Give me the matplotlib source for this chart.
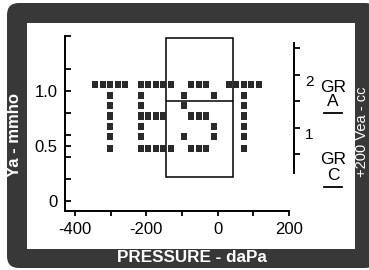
import matplotlib
matplotlib.use('Agg')
import matplotlib.pyplot as plt
from matplotlib.patches import FancyBboxPatch, Rectangle

plt.rcParams['font.family'] = ['Liberation Sans', 'DejaVu Sans']

# pressure axis (daPa) and admittance axis (mmho)
x_major = [-400, -200, 0, 200]
x_labels = ['-400', '-200', '0', '200']
x_minor = [-300, -100, 100]
y_major = [0, 0.5, 1.0]
y_labels = ['0', '0.5', '1.0']
y_minor = [0.2, 0.4, 0.6, 0.8, 1.2, 1.5]

# normal region box
box_x = [-145, 43]
box_y = [0.22, 1.48]
box_mid_y = 0.91

# right hand gradient scale
gr_major = [1, 2]
gr_labels = ['1', '2']
gr_minor = [0.5, 1.5, 2.5]

# dot matrix "TEST"
font5x7 = {
    'T': ["#####", "..#..", "..#..", "..#..", "..#..", "..#..", "..#.."],
    'E': ["#####", "#....", "#....", "####.", "#....", "#....", "#####"],
    'S': [".###.", "#...#", "#....", ".###.", "....#", "#...#", ".###."],
}
word = "TEST"
letter_x = [-343, -216, -95, 31]
col_offsets = [0, 21, 42, 63, 84]
row_y = [1.057, 0.958, 0.866, 0.773, 0.682, 0.585, 0.475]
dot_w = 16.5
dot_h = 0.064

fig = plt.figure(figsize=(3.69, 2.70), dpi=100)
fig.patch.set_facecolor('white')

# frame, drawn in pixel units
bg = fig.add_axes([0, 0, 1, 1])
bg.set_xlim(0, 369)
bg.set_ylim(270, 0)
bg.set_axis_off()
bg.add_patch(FancyBboxPatch((7, 3), 370, 265, boxstyle='round,pad=0,rounding_size=12',
                            fc='#383838', ec='none'))
bg.add_patch(Rectangle((27, 23), 327.5, 226, fc='white', ec='none'))
bg.text(192, 258, 'PRESSURE - daPa', color='white', fontsize=12.3, fontweight='bold',
        ha='center', va='center')
bg.text(15, 135, 'Ya - mmho', color='white', fontsize=12, fontweight='bold',
        rotation=90, ha='center', va='center')
bg.text(355.5, 132, '+200 Vea - cc', color='white', fontsize=10.5,
        rotation=90, ha='left', va='center')
bg.text(333, 87, 'GR', fontsize=12.5, ha='center', va='center')
bg.text(333, 101, 'A', fontsize=12.5, ha='center', va='center')
bg.plot([324, 342], [112.5, 112.5], color='black', lw=1.3)
bg.text(333, 160, 'GR', fontsize=12.5, ha='center', va='center')
bg.text(333, 176, 'C', fontsize=12.5, ha='center', va='center')
bg.plot([324, 342], [187, 187], color='black', lw=1.3)

# main tympanogram axes
ax = fig.add_axes([65/369, 1 - 211/270, 224/369, 175/270])
ax.patch.set_visible(False)
ax.set_xlim(-428, 200)
ax.set_ylim(-0.09, 1.5)
for s in ['top', 'right']:
    ax.spines[s].set_visible(False)
for s in ['left', 'bottom']:
    ax.spines[s].set_linewidth(1.4)
ax.set_xticks(x_major, x_labels)
ax.set_xticks(x_minor, minor=True)
ax.set_yticks(y_major, y_labels)
ax.set_yticks(y_minor, minor=True)
ax.tick_params(axis='x', which='both', direction='out', length=3.8, width=1.3,
               pad=4, labelsize=12)
ax.tick_params(axis='y', which='both', direction='in', length=4.6, width=1.3,
               pad=5.5, labelsize=12)

ax.add_patch(Rectangle((box_x[0], box_y[0]), box_x[1] - box_x[0], box_y[1] - box_y[0],
                       fill=False, ec='black', lw=1.1))
ax.hlines(box_mid_y, box_x[0], box_x[1], color='black', lw=1.1)

xs, ys = [], []
for ch, x0 in zip(word, letter_x):
    for r, line in enumerate(font5x7[ch]):
        for c, v in enumerate(line):
            if v == '#':
                xs.append(x0 + col_offsets[c])
                ys.append(row_y[r] - dot_h / 2)
ax.bar(xs, dot_h, width=dot_w, bottom=ys, color='#2a2a2a', zorder=3)

# right scale
ax2 = fig.add_axes([294/369 - 0.02, 1 - 173/270, 0.02, 130/270])
ax2.patch.set_visible(False)
ax2.set_ylim(0.15, 2.6)
for s in ['top', 'left', 'bottom']:
    ax2.spines[s].set_visible(False)
ax2.spines['right'].set_linewidth(1.4)
ax2.set_xticks([])
ax2.yaxis.tick_right()
ax2.set_yticks(gr_major, gr_labels)
ax2.set_yticks(gr_minor, minor=True)
ax2.tick_params(axis='y', which='both', direction='out', length=4.3, width=1.3,
                pad=3.5, labelsize=11)
plt.setp(ax2.get_yticklabels(), va='top')

fig.savefig('out.png', dpi=100)
